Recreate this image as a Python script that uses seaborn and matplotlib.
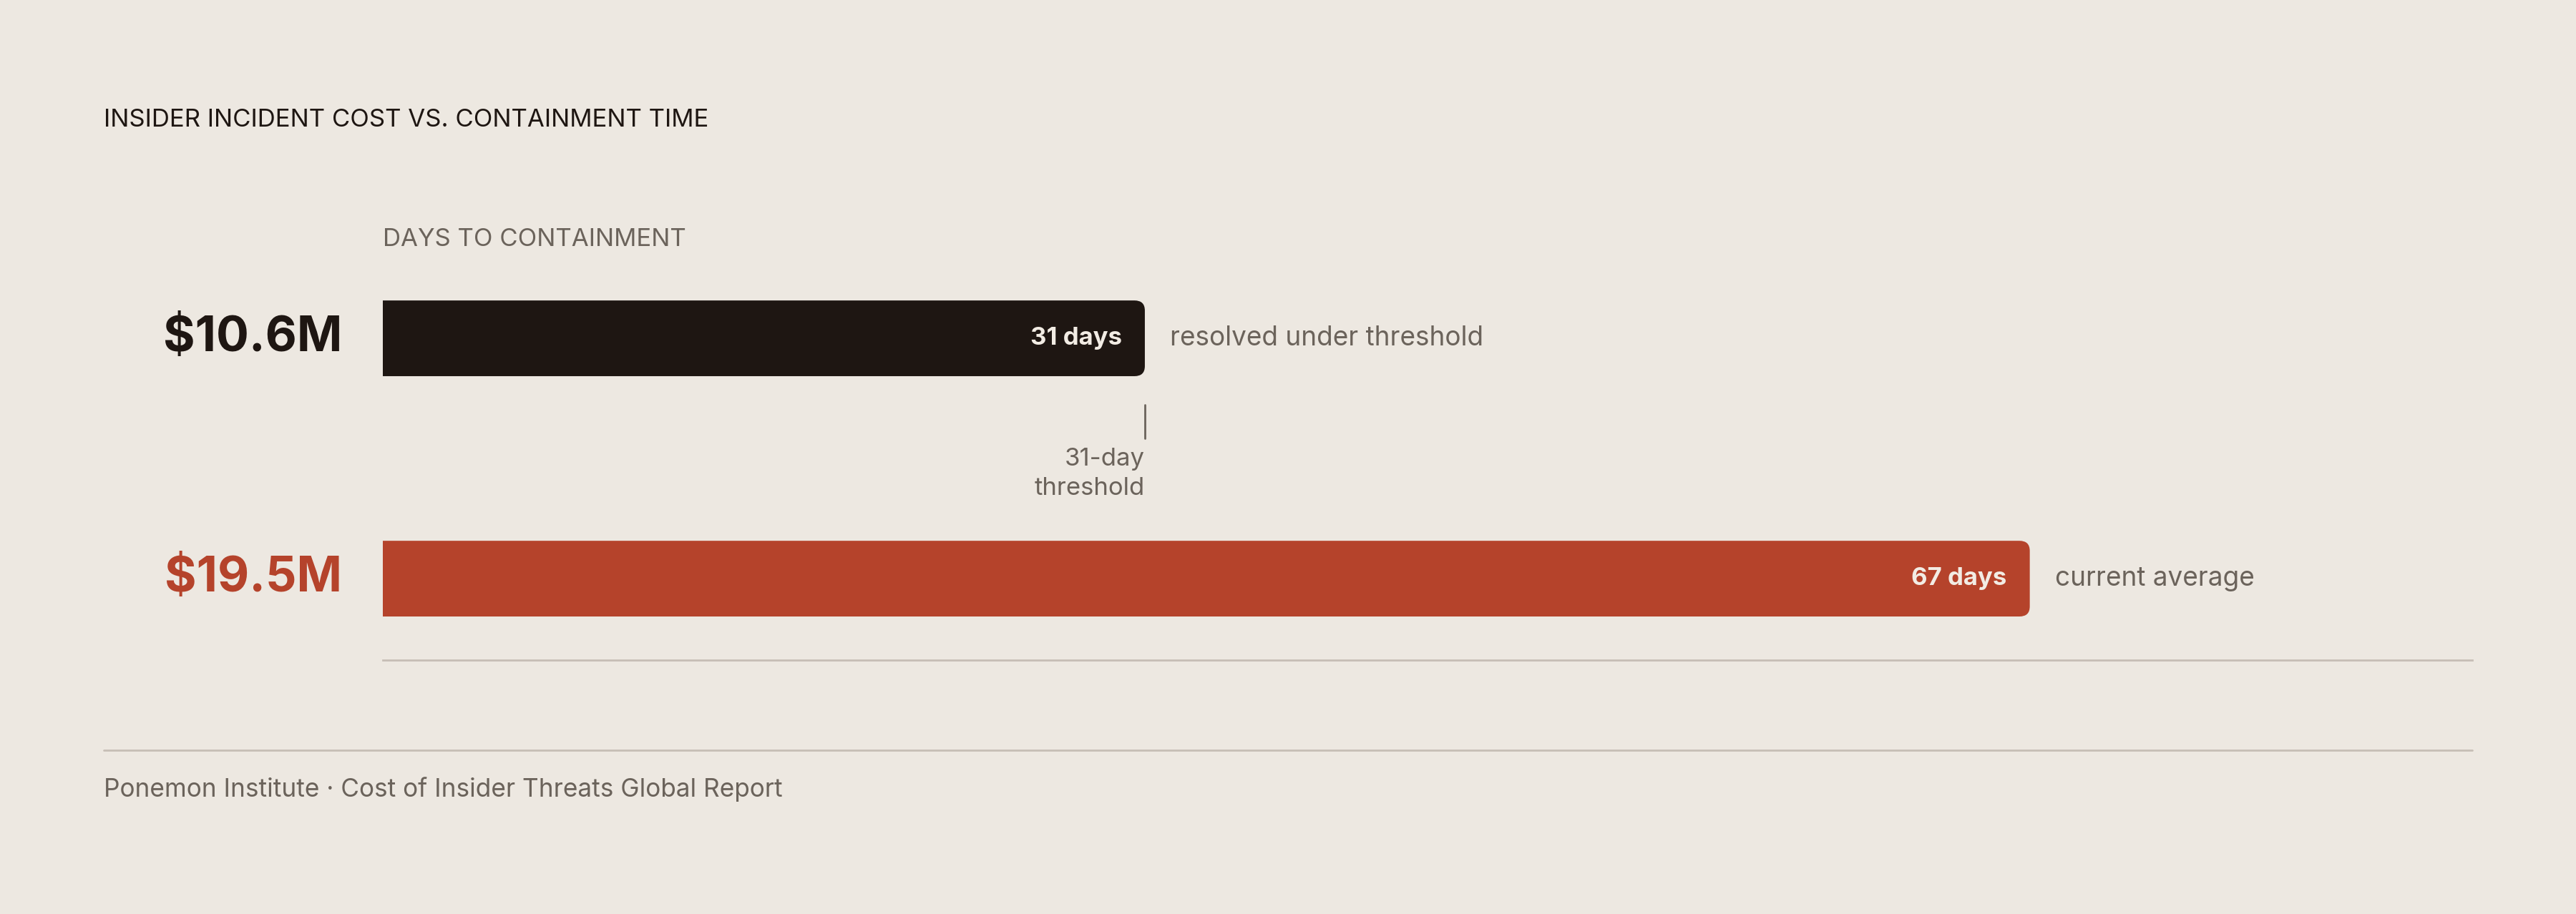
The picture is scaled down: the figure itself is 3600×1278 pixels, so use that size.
import matplotlib
matplotlib.use("Agg")
import matplotlib.pyplot as plt
import seaborn as sns
import pandas as pd
from matplotlib.patches import FancyBboxPatch
from matplotlib.lines import Line2D

# ---- data ----
cost_labels = ["$10.6M", "$19.5M"]
days = [31, 67]
day_labels = ["31 days", "67 days"]
notes = ["resolved under threshold", "current average"]
threshold_days = 31
threshold_label = "31-day\nthreshold"
axis_max = 85
title = "INSIDER INCIDENT COST VS. CONTAINMENT TIME"
axis_title = "DAYS TO CONTAINMENT"
source = "Ponemon Institute \u00b7 Cost of Insider Threats Global Report"

# ---- style ----
BG = "#ede8e1"
DARK = "#1e1612"
RED = "#b5432b"
GREY = "#6b635b"
RULE = "#c6beb6"
ONBAR = "#f2ece4"
bar_colors = [DARK, RED]
cost_colors = [DARK, RED]

sns.set_theme(style="white")
plt.rcParams["font.family"] = ["Inter", "DejaVu Sans"]

W, H, DPI = 3600, 1278, 200
fig = plt.figure(figsize=(W / DPI, H / DPI), dpi=DPI, facecolor=BG)

ax_left, ax_right = 535, 3455
ax_top, ax_bot = 300, 923
ax = fig.add_axes([ax_left / W, 1 - ax_bot / H, (ax_right - ax_left) / W, (ax_bot - ax_top) / H])
ax.set_facecolor(BG)

df = pd.DataFrame({"cost": cost_labels, "days": days})
sns.barplot(data=df, x="days", y="cost", hue="cost", palette=bar_colors,
            orient="h", width=0.315, legend=False, ax=ax, saturation=1)

ax.set_xlim(0, axis_max)
ax.set_ylim(1.339, -0.515)

# rounded right corners
for p in list(ax.patches):
    x0, y0, w, h = p.get_x(), p.get_y(), p.get_width(), p.get_height()
    fc = p.get_facecolor()
    p.set_visible(False)
    rp = FancyBboxPatch((x0 - 2, y0), w + 2, h,
                        boxstyle="round,pad=0,rounding_size=0.42",
                        mutation_aspect=0.1, facecolor=fc, edgecolor="none",
                        zorder=2)
    ax.add_patch(rp)

for s in ["top", "right", "left"]:
    ax.spines[s].set_visible(False)
ax.spines["bottom"].set_color(RULE)
ax.spines["bottom"].set_linewidth(1.0)
ax.set_xticks([])
ax.set_yticks([])
ax.set_xlabel("")
ax.set_ylabel("")

for i, (c, d, dl, n) in enumerate(zip(cost_labels, days, day_labels, notes)):
    ax.annotate(c, xy=(0, i), xytext=(-20.5, 0), textcoords="offset points",
                ha="right", va="center", fontsize=24.5, fontweight="bold",
                color=cost_colors[i], annotation_clip=False)
    ax.annotate(dl, xy=(d, i), xytext=(-11.5, 0), textcoords="offset points",
                ha="right", va="center", fontsize=12.5, fontweight="bold",
                color=ONBAR)
    ax.annotate(n, xy=(d, i), xytext=(12.6, 0), textcoords="offset points",
                ha="left", va="center", fontsize=13.3, color=GREY)

# threshold marker
ax.plot([threshold_days, threshold_days], [0.277, 0.417], color=GREY, lw=1.0)
ax.text(threshold_days, 0.563, threshold_label, ha="right", va="center",
        fontsize=12.5, color=GREY, linespacing=1.35)

# titles
fig.text(145 / W, 1 - 168 / H, title, ha="left", va="center",
         fontsize=12.5, color=DARK)
fig.text(535 / W, 1 - 335 / H, axis_title, ha="left", va="center",
         fontsize=12.5, color=GREY)

# footer rule + source
fig.add_artist(Line2D([145 / W, 3455 / W], [1 - 1049 / H, 1 - 1049 / H],
                      color=RULE, lw=1.0, transform=fig.transFigure))
fig.text(145 / W, 1 - 1104 / H, source, ha="left", va="center",
         fontsize=12.7, color=GREY)

fig.savefig("out.png", dpi=DPI, facecolor=BG)
